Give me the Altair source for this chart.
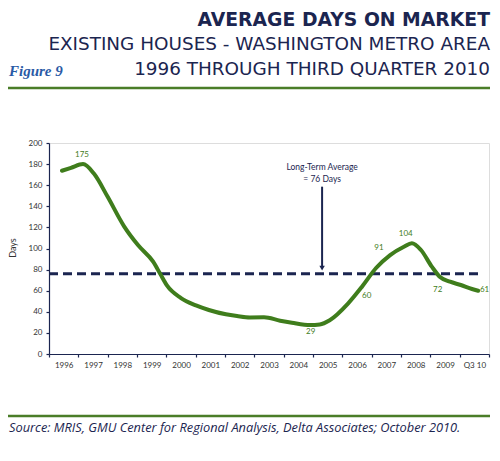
import altair as alt
import pandas as pd

# Category axis labels
categories = ["1996", "1997", "1998", "1999", "2000", "2001", "2002", "2003",
              "2004", "2005", "2006", "2007", "2008", "2009", "Q3 10"]

# Curve: position along the category axis (0..15) and days
curve_pos = [0.44, 0.75, 1.16, 1.53, 2.0, 2.56, 3.04, 3.55, 3.79, 4.02, 4.5, 5.01,
             5.45, 6.03, 6.41, 6.85, 7.33, 7.88, 8.28, 8.9, 9.23, 9.57, 10.2,
             10.67, 11.15, 11.63, 12.1, 12.37, 12.68, 13.05, 13.33, 13.67, 14.04,
             14.42, 14.63]
curve_days = [173.7, 176.5, 180, 171, 149, 121, 103, 87.5, 76, 65, 53, 46,
              41.7, 37.6, 36, 34.7, 34.8, 31.6, 29.7, 27.5, 28, 32, 48,
              63.8, 81.5, 93.8, 101.7, 105, 98.6, 82.8, 73, 68.5, 65.4,
              61.6, 60]

# Value labels
label_values = [175, 29, 60, 91, 104, 72, 61]
label_pos = [1.125, 8.92, 10.83, 11.25, 12.16, 13.25, 14.85]
label_days = [188.6, 20.9, 55.3, 100.5, 114, 60.7, 60.4]

long_term_avg = 76

NAVY = "#1b2550"
GREEN = "#3f7d1c"
FONT = "Lato"
TFONT = "DejaVu Sans"

curve_df = pd.DataFrame({"pos": curve_pos, "days": curve_days})
labels_df = pd.DataFrame({"pos": label_pos, "days": label_days,
                          "text": [str(v) for v in label_values]})
one = pd.DataFrame({"a": [0]})

xscale = alt.Scale(domain=[0, 15], nice=False, zero=False)
yscale = alt.Scale(domain=[0, 200], nice=False)

label_arr = "[" + ",".join("'%s'" % c for c in categories) + "]"

xaxis = alt.Axis(values=list(range(0, 16)), title=None, grid=False,
                 labelExpr="datum.value < 15 ? %s[datum.value] : ''" % label_arr,
                 labelOffset=14.7, labelFontSize=8, labelColor="#333333",
                 labelFont=FONT, labelPadding=4, labelOverlap=False,
                 labelBound=False, labelFlush=False,
                 domainColor=NAVY, tickColor=NAVY, tickSize=3, tickWidth=1.2,
                 domainWidth=1.2)
yaxis = alt.Axis(values=list(range(0, 201, 20)), title=None, grid=False,
                 labelFontSize=8, labelColor="#333333", labelFont=FONT,
                 labelPadding=4, labelOverlap=False, labelFlush=False,
                 domainColor=NAVY, tickColor=NAVY, tickSize=3,
                 tickWidth=1.2, domainWidth=1.2)

base_axes = alt.Chart(curve_df).mark_line(opacity=0).encode(
    x=alt.X("pos:Q", scale=xscale, axis=xaxis),
    y=alt.Y("days:Q", scale=yscale, axis=yaxis),
)

curve = alt.Chart(curve_df).mark_line(
    color=GREEN, strokeWidth=4, interpolate="monotone", strokeCap="round"
).encode(
    x=alt.X("pos:Q", scale=xscale, axis=xaxis),
    y=alt.Y("days:Q", scale=yscale, axis=yaxis),
)

avg_df = pd.DataFrame({"x0": [0], "x1": [14.7], "days": [long_term_avg]})
avg_line = alt.Chart(avg_df).mark_rule(
    color=NAVY, strokeWidth=3, strokeDash=[9, 5]
).encode(
    x=alt.X("x0:Q", scale=xscale, axis=xaxis), x2="x1:Q",
    y=alt.Y("days:Q", scale=yscale, axis=yaxis),
)

arrow_df = pd.DataFrame({"pos": [9.31], "top": [158.6], "bottom": [81.5]})
arrow_shaft = alt.Chart(arrow_df).mark_rule(color=NAVY, strokeWidth=2).encode(
    x=alt.X("pos:Q", scale=xscale, axis=xaxis),
    y=alt.Y("top:Q", scale=yscale, axis=yaxis), y2="bottom:Q",
)
arrow_head = alt.Chart(arrow_df).mark_point(
    shape="triangle-down", filled=True, color=NAVY, size=30, opacity=1
).encode(
    x=alt.X("pos:Q", scale=xscale, axis=xaxis),
    y=alt.Y("bottom:Q", scale=yscale, axis=yaxis),
)

ann_df = pd.DataFrame({"pos": [9.31, 9.31], "days": [177.5, 165.9],
                       "text": ["Long-Term Average", "= %d Days" % long_term_avg]})
ann = alt.Chart(ann_df).mark_text(
    font=FONT, fontSize=8.5, color=NAVY, baseline="middle", align="center"
).encode(
    x=alt.X("pos:Q", scale=xscale, axis=xaxis),
    y=alt.Y("days:Q", scale=yscale, axis=yaxis),
    text="text:N",
)

val_labels = alt.Chart(labels_df).mark_text(
    font=FONT, fontSize=8, color=GREEN, baseline="middle", align="center"
).encode(
    x=alt.X("pos:Q", scale=xscale, axis=xaxis),
    y=alt.Y("days:Q", scale=yscale, axis=yaxis),
    text="text:N",
)

# Decorative text and rules (plot origin at page (49,143))
def txt(s, x, y, size, weight="normal", style="normal", color=NAVY,
        align="right", font=FONT, angle=0):
    return alt.Chart(one).mark_text(
        text=s, fontSize=size, fontWeight=weight, fontStyle=style, color=color,
        align=align, baseline="alphabetic", font=font, angle=angle
    ).encode(x=alt.value(x), y=alt.value(y))

title1 = txt("AVERAGE DAYS ON MARKET", 441, -117, 18.8, weight="bold", font=TFONT)
title2 = txt("EXISTING HOUSES - WASHINGTON METRO AREA", 441, -93, 18.4, font=TFONT)
title3 = txt("1996 THROUGH THIRD QUARTER 2010", 441, -68, 18.4, font=TFONT)
fig = txt("Figure 9", -40, -67, 15, weight="bold", style="italic",
          color="#2a5aa6", align="left", font="Liberation Serif")
source = txt("Source: MRIS, GMU Center for Regional Analysis, Delta Associates; October 2010.",
             -40, 289, 12.8, style="italic", align="left", font="Open Sans")
ytitle = alt.Chart(one).mark_text(
    text="Days", fontSize=9, color="#333333", font=FONT, angle=270,
    align="center", baseline="middle"
).encode(x=alt.value(-36), y=alt.value(105))

rule_top = alt.Chart(one).mark_rule(color="#4a7d28", strokeWidth=2.5).encode(
    x=alt.value(-41), x2=alt.value(441), y=alt.value(-55))
rule_bot = alt.Chart(one).mark_rule(color="#4a7d28", strokeWidth=2.5).encode(
    x=alt.value(-41), x2=alt.value(441), y=alt.value(273))

chart = alt.layer(
    base_axes, avg_line, curve, arrow_shaft, arrow_head, ann, val_labels,
    title1, title2, title3, fig, source, ytitle, rule_top, rule_bot
).properties(
    width=440, height=211,
    autosize=alt.AutoSizeParams(type="none"),
    padding={"left": 41, "top": 135, "right": 3, "bottom": 100},
).configure_view(stroke=None).configure_axis(
    labelOverlap=False, labelBound=False
).configure(background="white")

chart.save("out.html", embed_options={"renderer": "svg", "actions": False})
